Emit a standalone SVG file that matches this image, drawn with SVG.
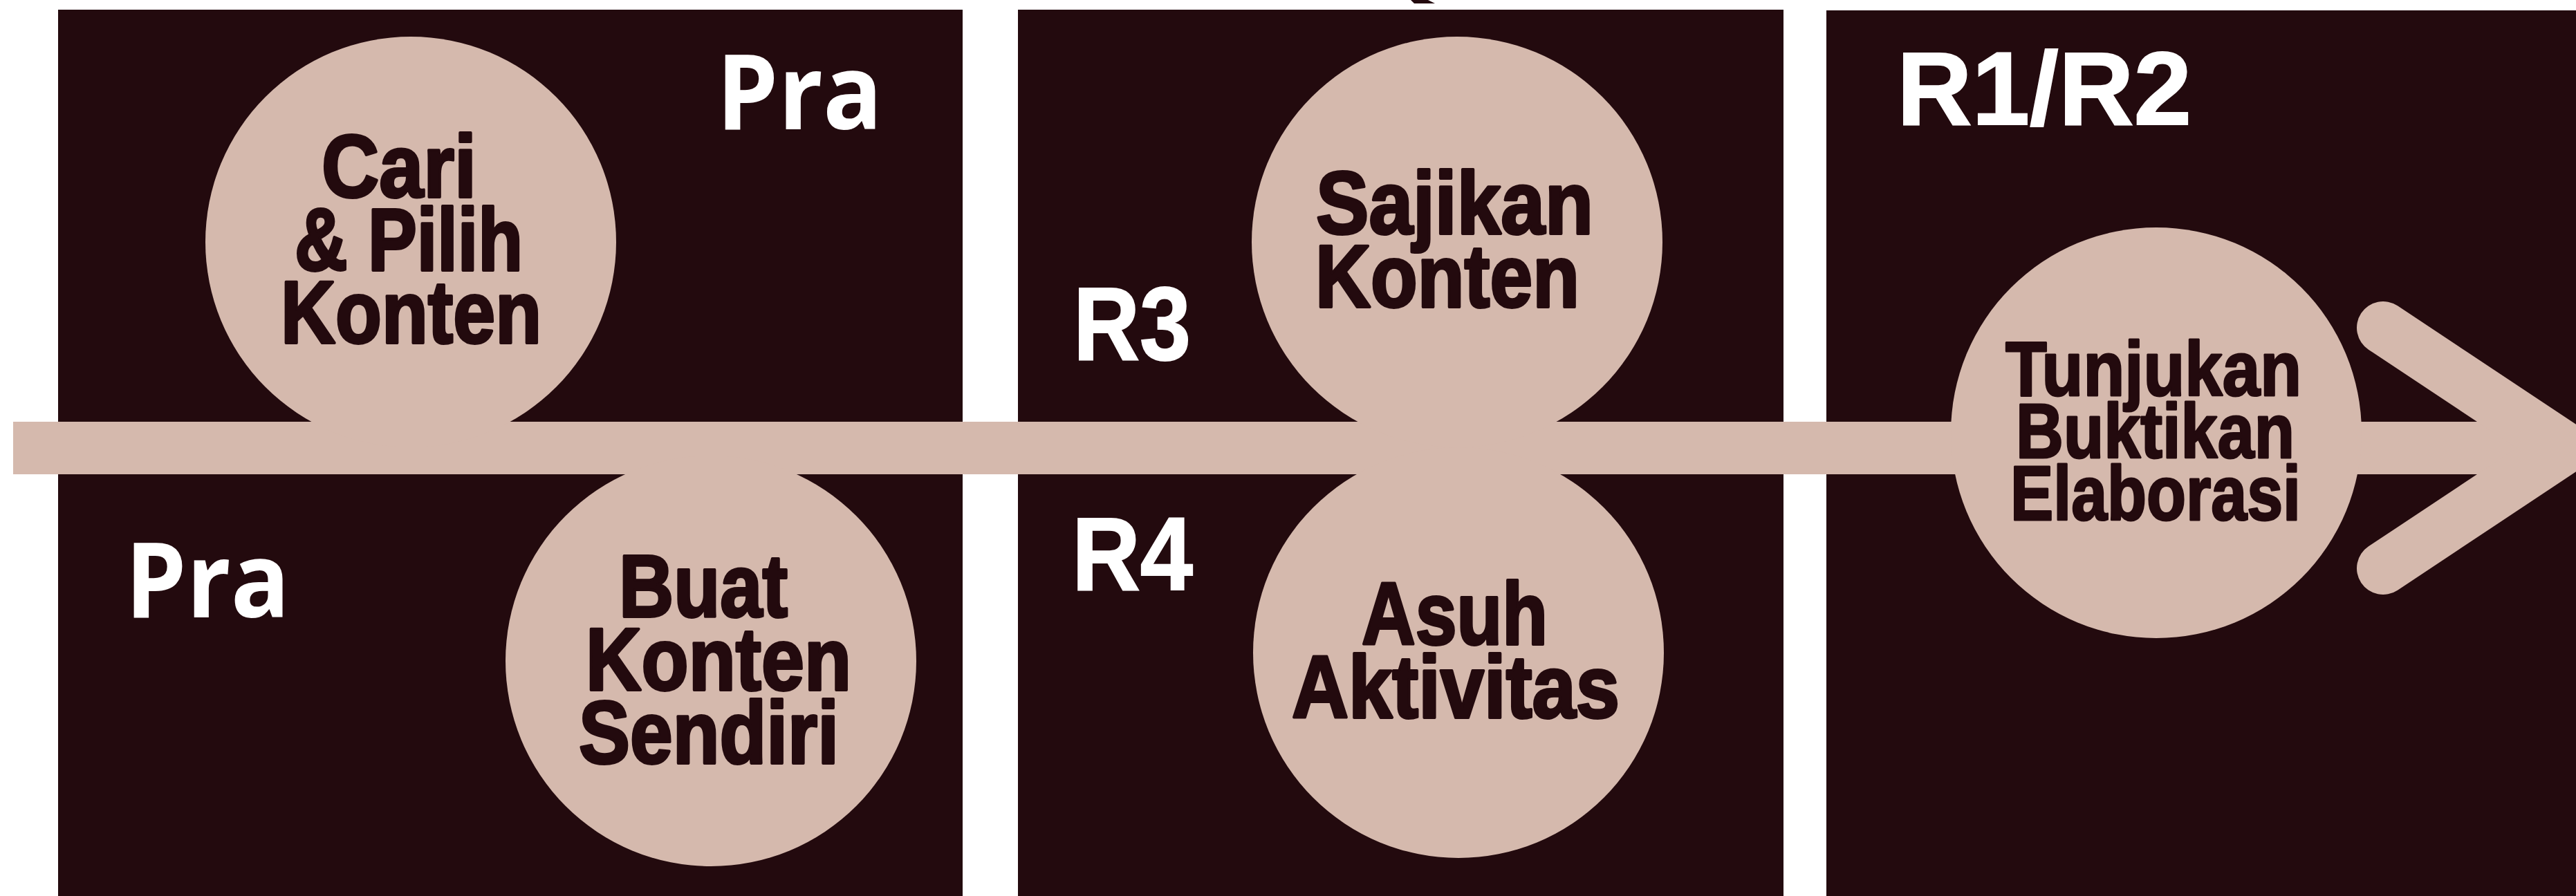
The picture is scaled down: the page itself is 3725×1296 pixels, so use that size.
<svg xmlns="http://www.w3.org/2000/svg" width="3725" height="1296" viewBox="0 0 3725 1296">
  <style>
    .panel { fill: #230a0e; }
    .node { fill: #d5b9ad; }
    .lbl { fill: #ffffff; font-family: "Open Sans", "Liberation Sans", sans-serif; font-weight: 700; font-size: 150px; }
    .rl { fill: #ffffff; stroke: #ffffff; stroke-width: 2; font-family: "Liberation Sans", Arial, sans-serif; font-weight: 700; font-size: 150px; }
    .t { fill: #230a0e; stroke: #230a0e; stroke-width: 4; stroke-linejoin: round; font-family: "Liberation Sans", Arial, sans-serif; font-weight: 700; font-size: 128px; }
    .ts { fill: #230a0e; stroke: #230a0e; stroke-width: 3; stroke-linejoin: round; font-family: "Liberation Sans", Arial, sans-serif; font-weight: 700; font-size: 112px; }
    .conn { fill: none; stroke: #d5b9ad; stroke-width: 76; }
  </style>
  <rect width="3725" height="1296" fill="#ffffff"/>

  <g id="panel-pra">
    <rect class="panel" x="84" y="14" width="1308" height="1282"/>
    <text class="lbl" x="1036" y="187" textLength="240" lengthAdjust="spacingAndGlyphs">Pra</text>
    <text class="lbl" x="181" y="893" textLength="238" lengthAdjust="spacingAndGlyphs">Pra</text>
  </g>
  <g id="panel-r3r4">
    <rect class="panel" x="1472" y="14" width="1107" height="1282"/>
    <text class="rl" x="1552" y="520" textLength="170" lengthAdjust="spacingAndGlyphs">R3</text>
    <text class="rl" x="1550" y="853" textLength="175" lengthAdjust="spacingAndGlyphs">R4</text>
  </g>
  <g id="panel-r1r2">
    <rect class="panel" x="2641" y="15" width="1084" height="1281"/>
    <text class="rl" x="2743" y="180" textLength="426" lengthAdjust="spacingAndGlyphs">R1/R2</text>
  </g>
  <polygon points="2040,0 2065,0 2075,5 2045,5" fill="#230a0e"/>

  <g id="connectors">
    <rect x="19" y="610" width="3690" height="76" fill="#d5b9ad"/>
    <polyline class="conn" points="3446,474 3708,648 3446,822" stroke-linecap="round" stroke-linejoin="miter" stroke-miterlimit="10"/>
  </g>

  <g id="node-cari">
    <circle class="node" cx="594" cy="350" r="297"/>
    <text class="t" x="465" y="285" textLength="224" lengthAdjust="spacingAndGlyphs">Cari</text>
    <text class="t" x="426" y="391" textLength="330" lengthAdjust="spacingAndGlyphs">&amp; Pilih</text>
    <text class="t" x="406" y="496" textLength="377" lengthAdjust="spacingAndGlyphs">Konten</text>
  </g>
  <g id="node-buat">
    <circle class="node" cx="1028" cy="956" r="297"/>
    <text class="t" x="895" y="892" textLength="244" lengthAdjust="spacingAndGlyphs">Buat</text>
    <text class="t" x="847" y="998" textLength="384" lengthAdjust="spacingAndGlyphs">Konten</text>
    <text class="t" x="837" y="1104" textLength="376" lengthAdjust="spacingAndGlyphs">Sendiri</text>
  </g>
  <g id="node-sajikan">
    <circle class="node" cx="2107" cy="350" r="297"/>
    <text class="t" x="1903" y="338" textLength="401" lengthAdjust="spacingAndGlyphs">Sajikan</text>
    <text class="t" x="1902" y="444" textLength="382" lengthAdjust="spacingAndGlyphs">Konten</text>
  </g>
  <g id="node-asuh">
    <circle class="node" cx="2109" cy="944" r="297"/>
    <text class="t" x="1969" y="932" textLength="269" lengthAdjust="spacingAndGlyphs">Asuh</text>
    <text class="t" x="1868" y="1038" textLength="474" lengthAdjust="spacingAndGlyphs">Aktivitas</text>
  </g>
  <g id="node-tunjukan">
    <circle class="node" cx="3118" cy="626" r="297"/>
    <text class="ts" x="2900" y="572" textLength="428" lengthAdjust="spacingAndGlyphs">Tunjukan</text>
    <text class="ts" x="2915" y="662" textLength="403" lengthAdjust="spacingAndGlyphs">Buktikan</text>
    <text class="ts" x="2907" y="752" textLength="420" lengthAdjust="spacingAndGlyphs">Elaborasi</text>
  </g>
</svg>
